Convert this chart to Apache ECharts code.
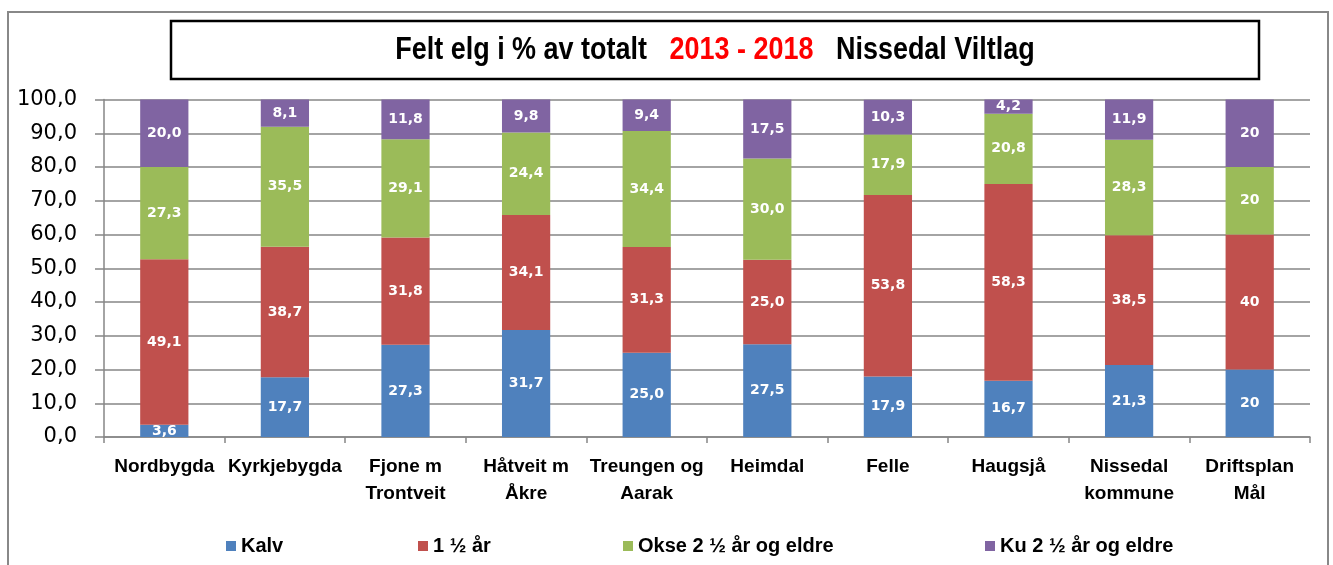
<!DOCTYPE html>
<html><head><meta charset="utf-8">
<script src="https://cdn.jsdelivr.net/npm/echarts@6/dist/echarts.min.js"></script>
<style>html,body{margin:0;padding:0;background:#fff}#c{width:1333px;height:565px}</style>
</head><body><div id="c"></div>
<script>
const categories = ['Nordbygda','Kyrkjebygda','Fjone m\nTrontveit','Håtveit m\nÅkre','Treungen og\nAarak','Heimdal','Felle','Haugsjå','Nissedal\nkommune','Driftsplan\nMål'];
const seriesNames = ['Kalv','1 ½ år','Okse 2 ½ år og eldre','Ku 2 ½ år og eldre'];
const kalv = [3.6,17.7,27.3,31.7,25.0,27.5,17.9,16.7,21.3,20];
const halvannet = [49.1,38.7,31.8,34.1,31.3,25.0,53.8,58.3,38.5,40];
const okse = [27.3,35.5,29.1,24.4,34.4,30.0,17.9,20.8,28.3,20];
const ku = [20.0,8.1,11.8,9.8,9.4,17.5,10.3,4.2,11.9,20];
const yTicks = ['0,0','10,0','20,0','30,0','40,0','50,0','60,0','70,0','80,0','90,0','100,0'];
const colors = ['#4F81BD','#C0504D','#9BBB59','#8064A2'];
const sansB = '"Liberation Sans",Arial,sans-serif';

const chart = echarts.init(document.getElementById('c'));
const data = [kalv, halvannet, okse, ku];
const fmt = p => p.dataIndex === 9 ? String(p.value) : p.value.toFixed(1).replace('.', ',');
const legendLeft = [221, 413, 618, 980];
chart.setOption({
  animation: false,
  graphic: [
    {type:'rect', shape:{x:8,y:12,width:1320,height:570}, style:{fill:'none',stroke:'#888',lineWidth:2}, silent:true},
    {type:'rect', shape:{x:171,y:21,width:1088,height:58}, style:{fill:'#fff',stroke:'#000',lineWidth:2.5}, silent:true},
    {type:'text', x:715, y:50, scaleX:0.87, style:{
      text:'{a|Felt elg i % av totalt}{r|   2013 - 2018   }{a|Nissedal Viltlag}',
      align:'center', verticalAlign:'middle',
      rich:{a:{font:'bold 31px '+sansB, fill:'#000'}, r:{font:'bold 31px '+sansB, fill:'#FF0000'}}
    }}
  ],
  legend: seriesNames.map((n,i)=>({
    data:[n], left:legendLeft[i], top:531, icon:'rect', itemWidth:10, itemHeight:10, itemGap:6,
    textStyle:{fontFamily:sansB, fontWeight:'bold', fontSize:20, color:'#000'}
  })),
  grid: {left:104, right:23, top:99.5, bottom:128},
  xAxis: {
    type:'category', data:categories,
    axisLine:{lineStyle:{color:'#868686', width:1.5}},
    axisTick:{show:true, length:6, lineStyle:{color:'#868686', width:1.5}},
    axisLabel:{interval:0, margin:16, fontFamily:sansB, fontWeight:'bold', fontSize:19, lineHeight:27, color:'#000'}
  },
  yAxis: {
    type:'value', min:0, max:100, interval:10,
    axisLine:{show:true, lineStyle:{color:'#868686', width:1.5}},
    axisTick:{show:true, length:9, inside:false, lineStyle:{color:'#868686', width:1.5}},
    splitLine:{lineStyle:{color:'#868686', width:1.5}},
    axisLabel:{margin:27, fontFamily:'"DejaVu Sans",sans-serif', fontSize:21, color:'#000', formatter:(v)=>yTicks[Math.round(v/10)]}
  },
  series: data.map((d,i)=>({
    name:seriesNames[i], type:'bar', stack:'tot', data:d, barWidth:'40%',
    itemStyle:{color:colors[i]},
    label:{show:true, position:'inside', color:'#fff', fontFamily:'"DejaVu Sans",sans-serif', fontWeight:'bold', fontSize:14, formatter:fmt}
  }))
});
</script></body></html>
